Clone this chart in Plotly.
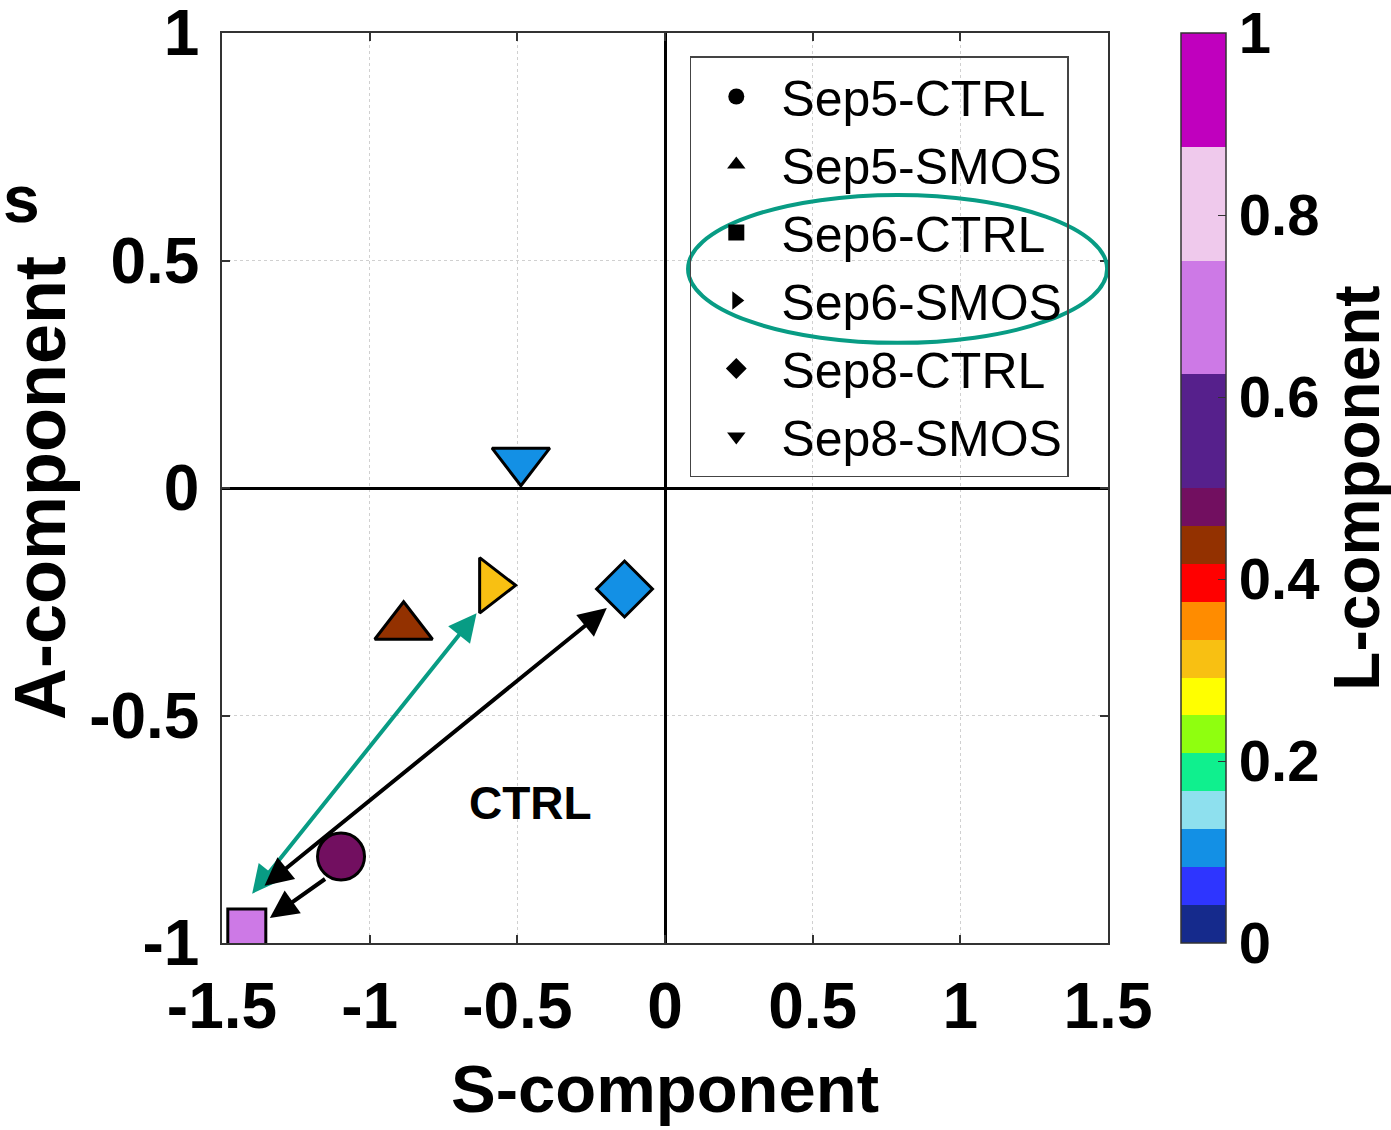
import plotly.graph_objects as go

# ---------------- data ----------------
names = ["Sep5-CTRL", "Sep5-SMOS", "Sep6-CTRL", "Sep6-SMOS", "Sep8-CTRL", "Sep8-SMOS"]
s_comp = [-1.097, -0.885, -1.416, -0.587, -0.137, -0.488]
a_comp = [-0.810, -0.305, -0.967, -0.214, -0.222, 0.060]
l_comp = [0.48, 0.44, 0.69, 0.31, 0.10, 0.11]
symbols = ["circle", "triangle-up", "square", "triangle-right", "diamond", "triangle-down"]
sizes = [47, 50, 38, 48, 43, 50]

x_ticks = [-1.5, -1, -0.5, 0, 0.5, 1, 1.5]
x_ticktext = ["-1.5", "-1", "-0.5", "0", "0.5", "1", "1.5"]
y_ticks = [-1, -0.5, 0, 0.5, 1]
y_ticktext = ["-1", "-0.5", "0", "0.5", "1"]
cb_ticks = [0, 0.2, 0.4, 0.6, 0.8, 1]
cb_ticktext = ["0", "0.2", "0.4", "0.6", "0.8", "1"]

# discrete colour map: bin edges and colours
cb_edges = [0, 1/24, 2/24, 3/24, 4/24, 5/24, 6/24, 7/24, 8/24, 9/24, 10/24, 11/24, 12/24,
            0.625, 0.75, 0.875, 1.0]
cb_colors = ["#152A8C", "#2E35FF", "#1390E5", "#8EE0EE", "#0FF08E", "#8FFF0F", "#FFFF00",
             "#F8C012", "#FF8C00", "#FF0000", "#933100", "#720F60", "#56208C", "#CD79E6",
             "#EFC9EC", "#C000BE"]

# arrows: head (x, y), tail (x, y)
arrow_hx = [-0.638, -0.197, -1.338]
arrow_hy = [-0.275, -0.264, -0.945]
arrow_tx = [-1.402, -1.361, -1.146]
arrow_ty = [-0.895, -0.877, -0.857]
arrow_col = ["#089C84", "#000000", "#000000"]
arrow_side = ["end+start", "end+start", "end"]

TEAL = "#089C84"
FONT = "Liberation Sans, Arial, sans-serif"

colorscale = []
for i, c in enumerate(cb_colors):
    colorscale.append([cb_edges[i], c])
    colorscale.append([cb_edges[i + 1], c])

fig = go.Figure()

# data traces
for i in range(len(names)):
    fig.add_trace(go.Scatter(
        x=[s_comp[i]], y=[a_comp[i]], mode="markers", name=names[i],
        showlegend=False,
        marker=dict(symbol=symbols[i], size=sizes[i], color=[l_comp[i]],
                    coloraxis="coloraxis", line=dict(color="black", width=3)),
    ))

# legend entries (black symbols)
for i in range(len(names)):
    fig.add_trace(go.Scatter(
        x=[None], y=[None], mode="markers", name=names[i], showlegend=True,
        marker=dict(symbol=symbols[i], size=16, color="black"),
    ))

for i in range(len(arrow_hx)):
    fig.add_annotation(
        x=arrow_hx[i], y=arrow_hy[i], ax=arrow_tx[i], ay=arrow_ty[i],
        xref="x", yref="y", axref="x", ayref="y", text="",
        showarrow=True, arrowhead=2, arrowsize=1.4, arrowwidth=4,
        arrowcolor=arrow_col[i], arrowside=arrow_side[i], standoff=0, startstandoff=0,
    )

fig.add_annotation(x=-0.454, y=-0.692, xref="x", yref="y", text="<b>CTRL</b>",
                   showarrow=False, font=dict(family=FONT, size=46, color="black"))

# letter at the top-left edge
fig.add_annotation(x=-0.2494, y=0.8604, xref="paper", yref="paper", xanchor="left",
                   text="<b>s</b>", showarrow=False,
                   font=dict(family=FONT, size=66, color="black"))

# white backing for the legend box (above gridlines, below traces)
fig.add_shape(type="rect", xref="paper", yref="paper", x0=0.529, x1=0.953,
              y0=0.515, y1=0.974, fillcolor="white", line=dict(width=0), layer="between")

# teal ellipse highlighting Sep6 legend entries
fig.add_shape(type="circle", xref="x", yref="y", x0=0.078, x1=1.497, y0=0.319, y1=0.644,
              line=dict(color=TEAL, width=4), layer="above")

axis_common = dict(
    showline=True, linecolor="#333333", linewidth=1.5, mirror="allticks",
    ticks="inside", ticklen=8, tickwidth=1.5, tickcolor="#333333",
    showgrid=True, gridcolor="#d0d0d0", griddash="dot", gridwidth=1,
    zeroline=True, zerolinecolor="black", zerolinewidth=3,
    tickfont=dict(family=FONT, size=64, color="black", weight="bold"),
    ticklabeloverflow="allow",
)

fig.update_layout(
    width=1391, height=1130,
    margin=dict(l=222, r=283, t=33, b=187, autoexpand=False),
    paper_bgcolor="white", plot_bgcolor="white",
    font=dict(family=FONT, color="black"),
    xaxis=dict(range=[-1.5, 1.5], tickvals=x_ticks, ticktext=x_ticktext,
               title=dict(text="<b>S-component</b>", standoff=25,
                          font=dict(family=FONT, size=67)),
               ticklabelstandoff=6, **axis_common),
    yaxis=dict(range=[-1, 1], tickvals=y_ticks, ticktext=y_ticktext,
               title=dict(text="<b>A-component</b>", standoff=4,
                          font=dict(family=FONT, size=72)),
               ticklabelstandoff=8, **axis_common),
    coloraxis=dict(
        cmin=0, cmax=1, colorscale=colorscale,
        colorbar=dict(
            x=1.0824, xanchor="left", xpad=0, y=0.5, yanchor="middle", ypad=0,
            len=1, lenmode="fraction", thickness=45, thicknessmode="pixels",
            outlinecolor="#333333", outlinewidth=1.5,
            tickvals=cb_ticks, ticktext=cb_ticktext, ticks="inside", ticklen=8,
            tickcolor="#333333",
            tickfont=dict(family=FONT, size=58, color="black", weight="bold"),
            title=dict(text="<b>L-component</b>", side="right",
                       font=dict(family=FONT, size=64, color="black")),
        ),
    ),
    legend=dict(x=0.528, y=0.9747, xanchor="left", yanchor="top",
                bgcolor="rgba(0,0,0,0)", bordercolor="#444444", borderwidth=1.5,
                font=dict(family=FONT, size=50, color="black"),
                itemwidth=80, tracegroupgap=0),
    showlegend=True,
)

fig.write_html("out.html", config={"displayModeBar": False},
               post_script="document.body.style.margin='0px';")
